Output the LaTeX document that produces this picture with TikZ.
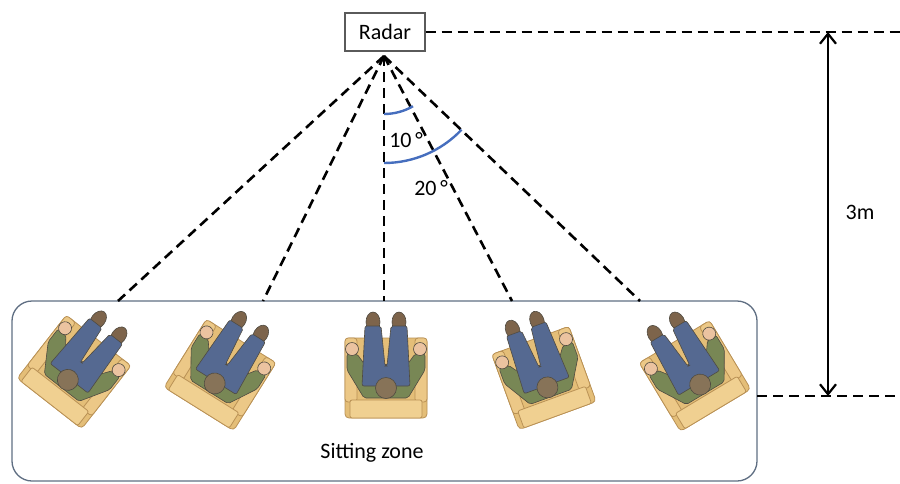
\documentclass[tikz,border=0pt]{standalone}
\usepackage{fontspec}
\setmainfont{Carlito}
\usetikzlibrary{arrows.meta}

\definecolor{boxline}{RGB}{90,90,90}
\definecolor{zoneline}{RGB}{95,110,130}
\definecolor{arcblue}{RGB}{70,110,190}
\definecolor{chairfill}{RGB}{228,190,120}
\definecolor{chairarm}{RGB}{236,200,135}
\definecolor{chairback}{RGB}{240,208,145}
\definecolor{chairline}{RGB}{185,145,85}
\definecolor{jeans}{RGB}{85,105,145}
\definecolor{shoe}{RGB}{125,100,75}
\definecolor{shirt}{RGB}{120,135,85}
\definecolor{skin}{RGB}{235,195,160}
\definecolor{hair}{RGB}{135,115,88}
\definecolor{figline}{RGB}{80,75,65}

\tikzset{
  dashline/.style={line width=2.6pt, dash pattern=on 10pt off 6pt},
  anglearc/.style={arcblue, line width=2.4pt},
  chairpart/.style={draw=chairline, line width=0.8pt},
  figpart/.style={draw=figline, line width=0.6pt},
  % armchair with a seated person seen from above, facing local -y
  pics/seated/.style={code={
    \draw[chairpart, fill=chairfill, rounded corners=4pt] (-41,-40) rectangle (41,40);
    \draw[chairpart, fill=chairarm, rounded corners=3pt] (-41,-40) rectangle (-29,24);
    \draw[chairpart, fill=chairarm, rounded corners=3pt] (29,-40) rectangle (41,24);
    \draw[chairpart, fill=chairback, rounded corners=2pt] (-36,22) rectangle (36,40);
    % torso and arms
    \draw[figpart, fill=shirt, rounded corners=2pt]
      (-39,-24) -- (-39,-8) -- (-22,20) -- (22,20) -- (39,-8) -- (39,-24)
      -- (29,-24) -- (10,2) -- (-10,2) -- (-29,-24) -- cycle;
    % hands
    \draw[figpart, fill=skin] (-34,-29) circle [radius=6.5];
    \draw[figpart, fill=skin] (34,-29) circle [radius=6.5];
    % shoes
    \draw[figpart, fill=shoe] (-13,-56) ellipse [x radius=7, y radius=10];
    \draw[figpart, fill=shoe] (13,-56) ellipse [x radius=7, y radius=10];
    % legs
    \draw[figpart, fill=jeans, rounded corners=2pt]
      (-24,8) -- (-21,-52) -- (-5,-52) -- (-1,-12) -- (1,-12)
      -- (5,-52) -- (21,-52) -- (24,8) -- cycle;
    % head
    \draw[figpart, fill=hair] (0,10) circle [radius=10.5];
  }}
}

\begin{document}
\begin{tikzpicture}[x=1pt, y=-1pt, font=\fontsize{22}{26}\selectfont]
\useasboundingbox (0,0) rectangle (900,483);

% radar and the sitting zone
\node[draw=boxline, line width=1.2pt, minimum width=80pt, minimum height=38pt, inner sep=0pt]
  (radar) at (385,32) {Radar};
\node[draw=zoneline, line width=1.3pt, rounded corners=20pt,
      minimum width=745pt, minimum height=180pt] (zone) at (384.5,391) {};
\node (label) at (372,453) {Sitting zone};

% seated people, each turned toward the radar
\pic[rotate=-38] at (74,372) {seated};
\pic[rotate=-32] at (220,375) {seated};
\pic at (386,378) {seated};
\pic[rotate=20] at (544,378) {seated};
\pic[rotate=31] at (695,376) {seated};

% beams from the radar to the zone
\coordinate (apex) at (384,56);
\coordinate (t1) at (118,301);
\coordinate (t2) at (263,301);
\coordinate (t3) at (384,301);
\coordinate (t4) at (512,301);
\coordinate (t5) at (640,301);
\foreach \t in {t1,t2,t3,t4,t5} \draw[dashline] (apex) -- (\t);

% beam angles
\draw[anglearc] (apex) ++(90:58) arc[start angle=90, end angle=60, radius=58];
\draw[anglearc] (apex) ++(90:107) arc[start angle=90, end angle=43.5, radius=107];
\node (a10) at (406,140) {10\,°};
\node (a20) at (431,188) {20\,°};

% distance marker
\coordinate (farTop) at (900,32);
\coordinate (nearBot) at (757,396);
\coordinate (farBot) at (900,396);
\coordinate (armTop) at (828,32);
\coordinate (armBot) at (828,396);
\draw[dashline] (radar.east) -- (farTop);
\draw[dashline] (nearBot) -- (farBot);
\draw[line width=2.2pt, {Straight Barb[length=10pt,width=16pt]}-{Straight Barb[length=10pt,width=16pt]}]
  (armTop) -- (armBot);
\node (dist) at (860,212) {3m};
\end{tikzpicture}
\end{document}
